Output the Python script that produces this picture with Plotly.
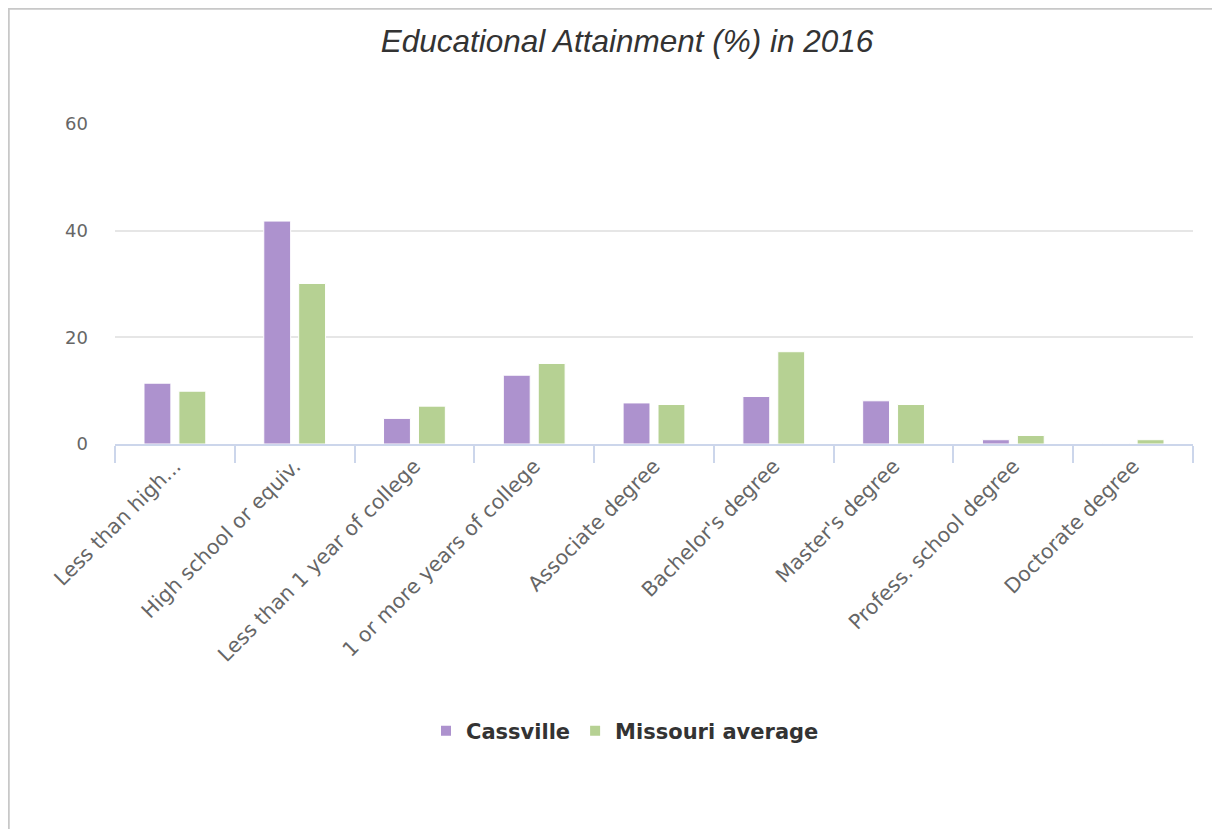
import plotly.graph_objects as go

categories = ["Less than high...", "High school or equiv.", "Less than 1 year of college",
              "1 or more years of college", "Associate degree", "Bachelor's degree",
              "Master's degree", "Profess. school degree", "Doctorate degree"]
cassville = [11.4, 41.8, 4.8, 12.9, 7.7, 8.9, 8.1, 0.8, 0.1]
missouri = [9.9, 30.1, 7.1, 15.1, 7.4, 17.3, 7.4, 1.6, 0.8]
series_names = ["Cassville", "Missouri average"]
y_ticks = [0, 20, 40, 60]

# page has an 8px body margin, so the figure starts at (8, 8) on screen
OFF = 8
W, H = 1220 - OFF, 829 - OFF
L, R, T, B = 115 - OFF, 1220 - 1193, 124 - OFF, 829 - 444
pw, ph = W - L - R, H - T - B

def px(x):  # screen x -> paper
    return (x - OFF - L) / pw

def py(y):  # screen y -> paper
    return (H - B - (y - OFF)) / ph

fig = go.Figure()
fig.add_trace(go.Bar(x=categories, y=cassville, name=series_names[0],
                     marker=dict(color="#ad92ce", line=dict(color="#ffffff", width=1))))
fig.add_trace(go.Bar(x=categories, y=missouri, name=series_names[1],
                     marker=dict(color="#b6d193", line=dict(color="#ffffff", width=1))))

fig.update_layout(
    width=W, height=H,
    margin=dict(l=L, r=R, t=T, b=B, autoexpand=False),
    paper_bgcolor="white", plot_bgcolor="white",
    barmode="group", bargap=0.417, bargroupgap=0.23,
    title=dict(text="<i>Educational Attainment (%) in 2016</i>", x=(627 - OFF) / W, xanchor="center",
               y=1 - (41 - OFF) / H, yanchor="middle",
               font=dict(family="Liberation Sans, Arial", size=31.5, color="#333333")),
    font=dict(family="DejaVu Sans", color="#666666"),
    legend=dict(orientation="h", x=px(625), xanchor="center", y=py(731), yanchor="middle",
                font=dict(family="DejaVu Sans", size=21, color="#333333", weight="bold"),
                itemsizing="constant", traceorder="normal"),
    showlegend=True,
)
fig.update_xaxes(
    type="category", tickangle=-45, tickson="boundaries", ticks="outside", ticklen=17,
    tickcolor="#ccd6eb", tickwidth=1.5, showline=True, linecolor="#ccd6eb", linewidth=2,
    showgrid=False, tickfont=dict(family="DejaVu Sans", size=20.5, color="#666666"),
)
fig.update_yaxes(
    range=[0, 60], tickvals=y_ticks, showgrid=True, gridcolor="#e6e6e6", gridwidth=1.5,
    zeroline=False, showline=False, ticks="", ticklabelstandoff=26,
    tickfont=dict(family="DejaVu Sans", size=18, color="#666666"),
)
# chart container border
fig.add_shape(type="rect", xref="paper", yref="paper",
              x0=px(OFF + 0.5), x1=px(1240), y0=py(OFF + 0.5), y1=py(850),
              line=dict(color="#c8c8c8", width=2.5), fillcolor="rgba(0,0,0,0)", layer="below")

fig.write_html("out.html")
